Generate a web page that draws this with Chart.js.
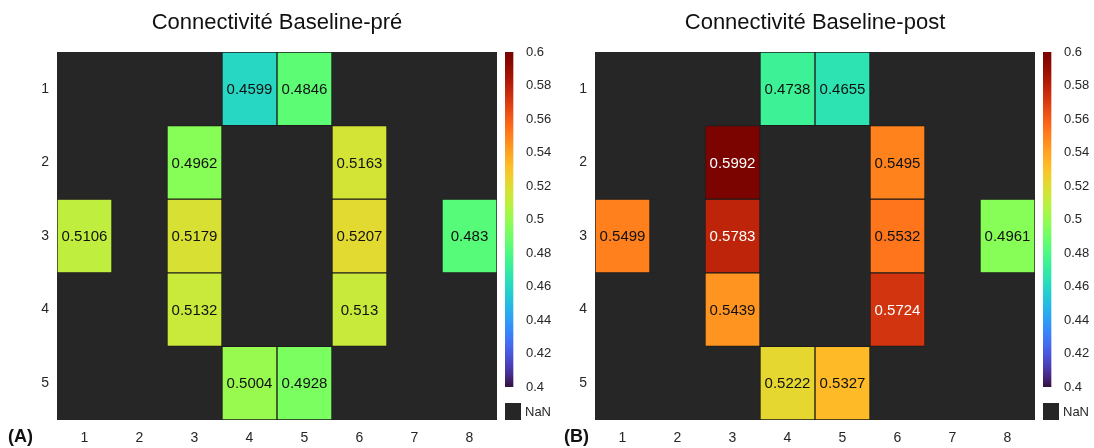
<!DOCTYPE html>
<html>
<head>
<meta charset="utf-8">
<script src="https://cdn.jsdelivr.net/npm/chart.js@4.4.1/dist/chart.umd.min.js"></script>
<style>
  html, body { margin:0; padding:0; background:#ffffff; overflow:hidden; }
  body { width:1094px; height:448px; position:relative; font-family:"Liberation Sans", Arial, sans-serif; }
  canvas { position:absolute; top:0; }
  .nan { position:absolute; width:16px; height:17px; background:#262626; top:403px; }
  .nanlbl { position:absolute; font-size:13px; color:#262626; top:404px; }
  .panel { position:absolute; font-size:18px; font-weight:bold; color:#111; top:426px; }
</style>
</head>
<body>
<canvas id="hmA" width="554" height="448" style="left:0px"></canvas>
<canvas id="hmB" width="554" height="448" style="left:538px"></canvas>
<canvas id="cbA" width="56" height="448" style="left:500px"></canvas>
<canvas id="cbB" width="56" height="448" style="left:1038px"></canvas>
<div class="nan" style="left:505px"></div><div class="nanlbl" style="left:525px">NaN</div>
<div class="nan" style="left:1043px"></div><div class="nanlbl" style="left:1063px">NaN</div>
<div class="panel" style="left:8px">(A)</div>
<div class="panel" style="left:564px">(B)</div>
<script>
// ---- data ----
const columnLabels = ['1','2','3','4','5','6','7','8'];
const rowLabels = [1,2,3,4,5];
const titleA = 'Connectivité Baseline-pré';
const titleB = 'Connectivité Baseline-post';
const preValues = [
  [null, null, null, 0.4599, 0.4846, null, null, null],
  [null, null, 0.4962, null, null, 0.5163, null, null],
  [0.5106, null, 0.5179, null, null, 0.5207, null, 0.483],
  [null, null, 0.5132, null, null, 0.513, null, null],
  [null, null, null, 0.5004, 0.4928, null, null, null]
];
const postValues = [
  [null, null, null, 0.4738, 0.4655, null, null, null],
  [null, null, 0.5992, null, null, 0.5495, null, null],
  [0.5499, null, 0.5783, null, null, 0.5532, null, 0.4961],
  [null, null, 0.5439, null, null, 0.5724, null, null],
  [null, null, null, 0.5222, 0.5327, null, null, null]
];
const colorMin = 0.4, colorMax = 0.6;
const colorbarTicks = [0.4,0.42,0.44,0.46,0.48,0.5,0.52,0.54,0.56,0.58,0.6];

// ---- helpers ----
Chart.defaults.font.family = '"Liberation Sans", Arial, sans-serif';
Chart.defaults.color = '#262626';
function clamp(x){ return Math.max(0, Math.min(1, x)); }
function turboRGB(t){
  const x = clamp(t);
  let r = 0.13572138 + x*(4.61539260 + x*(-42.66032258 + x*(132.13108234 + x*(-152.94239396 + x*59.28637943))));
  let g = 0.09140261 + x*(2.19418839 + x*(4.84296658 + x*(-14.18503333 + x*(4.27729857 + x*2.82956604))));
  let b = 0.10667330 + x*(12.64194608 + x*(-60.58204836 + x*(110.36276771 + x*(-89.90310912 + x*27.34824973))));
  if (x > 0.9) { const k = Math.pow((x-0.9)/0.1, 2); r -= 0.086*k; g -= 0.035*k; }
  if (x < 0.1) { const k = Math.pow((0.1-x)/0.1, 2); r += 0.054*k; g -= 0.02*k; b += 0.125*k; }
  return [r,g,b].map(c => Math.round(255*clamp(c)));
}
function valueRGB(v){ return turboRGB((v - colorMin)/(colorMax - colorMin)); }
function valueColor(v){ if (v == null) return 'rgba(0,0,0,0)'; const c = valueRGB(v); return `rgb(${c[0]},${c[1]},${c[2]})`; }
function textColor(v){ const c = valueRGB(v); const L = (0.299*c[0] + 0.587*c[1] + 0.114*c[2])/255; return L < 0.5 ? '#ffffff' : '#111111'; }

const nanBackground = {
  id: 'nanBackground',
  beforeDatasetsDraw(chart){
    const a = chart.chartArea, ctx = chart.ctx;
    ctx.save(); ctx.fillStyle = '#262626';
    ctx.fillRect(a.left, a.top, a.right - a.left, a.bottom - a.top);
    ctx.restore();
  }
};
const cellLabels = {
  id: 'cellLabels',
  afterDatasetsDraw(chart){
    const ctx = chart.ctx;
    ctx.save();
    ctx.font = '15px "Liberation Sans", Arial, sans-serif';
    ctx.textAlign = 'center'; ctx.textBaseline = 'middle';
    chart.data.datasets.forEach((ds, di) => {
      const meta = chart.getDatasetMeta(di);
      ds.values.forEach((v, ci) => {
        if (v == null) return;
        const el = meta.data[ci];
        ctx.fillStyle = textColor(v);
        ctx.fillText(String(v), el.x, (el.y + el.base)/2 + 1);
      });
    });
    ctx.restore();
  }
};

function heatmap(id, title, values){
  const datasets = values.map((row, ri) => ({
    values: row,
    data: row.map(v => v == null ? null : [rowLabels[ri] - 0.5, rowLabels[ri] + 0.5]),
    backgroundColor: row.map(valueColor),
    borderColor: 'rgba(0,0,0,0.28)',
    borderWidth: 1,
    borderSkipped: false,
    barPercentage: 1,
    categoryPercentage: 1,
    grouped: false
  }));
  return new Chart(document.getElementById(id), {
    type: 'bar',
    data: { labels: columnLabels, datasets },
    options: {
      responsive: false, animation: false, devicePixelRatio: 1,
      layout: { padding: 0 },
      plugins: {
        legend: { display: false }, tooltip: { enabled: false },
        title: { display: true, text: title, color: '#111', font: { size: 22, weight: 'normal' }, padding: { top: 10, bottom: 15.6 } }
      },
      scales: {
        x: {
          type: 'category', offset: true,
          grid: { display: false, drawTicks: false }, border: { display: false },
          ticks: { font: { size: 14 }, padding: 10, color: '#262626' },
          afterFit(s){ s.height = 28; }
        },
        y: {
          type: 'linear', reverse: true, min: rowLabels[0] - 0.5, max: rowLabels[rowLabels.length-1] + 0.5,
          grid: { display: false, drawTicks: false }, border: { display: false },
          ticks: { font: { size: 14 }, padding: 8, color: '#262626' },
          afterBuildTicks(s){ s.ticks = rowLabels.map(v => ({ value: v })); },
          afterFit(s){ s.width = 57; }
        },
        y2: {
          type: 'linear', position: 'right', display: true,
          grid: { display: false, drawTicks: false }, border: { display: false },
          ticks: { display: false },
          afterFit(s){ s.width = 57; }
        }
      }
    },
    plugins: [nanBackground, cellLabels]
  });
}

function colorbar(id){
  return new Chart(document.getElementById(id), {
    type: 'bar',
    data: { labels: [''], datasets: [{
      data: [[colorMin, colorMax]],
      backgroundColor(ctx){
        const chart = ctx.chart, a = chart.chartArea;
        if (!a) return '#888';
        const ys = chart.scales.y;
        const g = chart.ctx.createLinearGradient(0, ys.getPixelForValue(colorMin), 0, ys.getPixelForValue(colorMax));
        for (let i = 0; i <= 60; i++) { const t = i/60; const c = turboRGB(t); g.addColorStop(t, `rgb(${c[0]},${c[1]},${c[2]})`); }
        return g;
      },
      borderWidth: 0, barPercentage: 1, categoryPercentage: 1
    }]},
    options: {
      responsive: false, animation: false, devicePixelRatio: 1,
      layout: { padding: { left: 5, top: 52, bottom: 61, right: 0 } },
      plugins: { legend: { display: false }, tooltip: { enabled: false } },
      scales: {
        x: { display: false, offset: false },
        y: {
          position: 'right', min: colorMin, max: colorMax,
          grid: { display: false, drawTicks: false }, border: { display: false },
          ticks: { font: { size: 13 }, padding: 5, color: '#262626', autoSkip: false,
                   callback: v => String(+v.toFixed(2)) },
          afterBuildTicks(s){ s.ticks = colorbarTicks.map(v => ({ value: v })); },
          afterFit(s){ s.width = 35; }
        }
      }
    }
  });
}

heatmap('hmA', titleA, preValues);
heatmap('hmB', titleB, postValues);
colorbar('cbA');
colorbar('cbB');
</script>
</body>
</html>
